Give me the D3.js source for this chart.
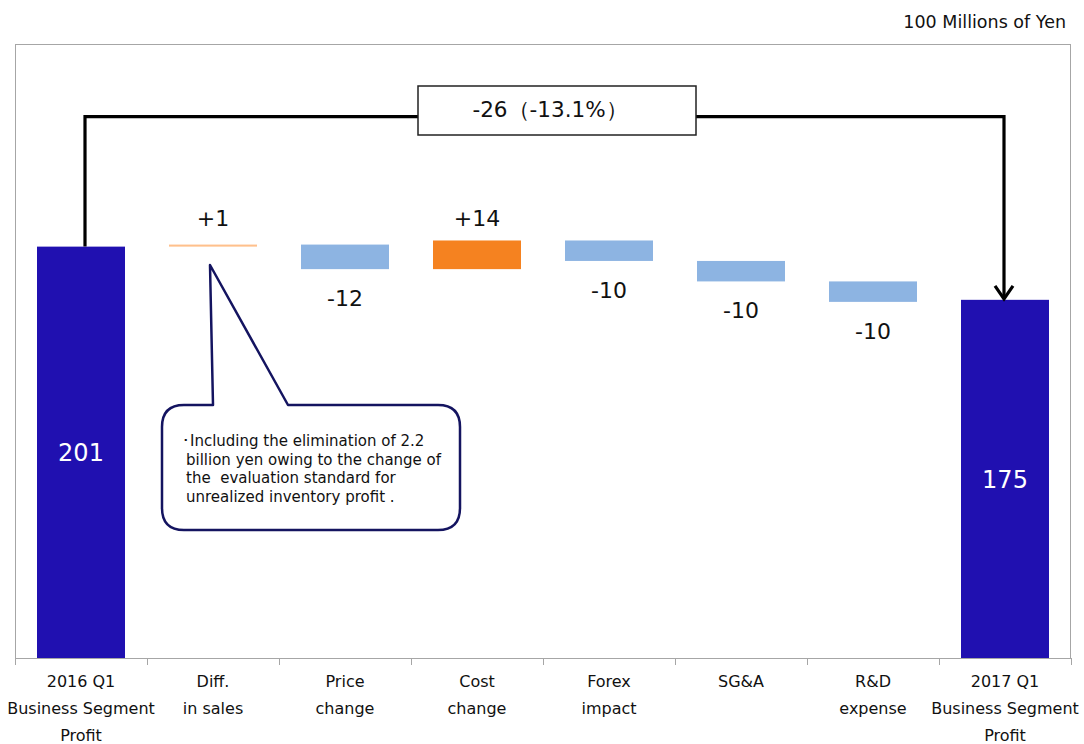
<!DOCTYPE html>
<html><head><meta charset="utf-8">
<script src="https://cdn.jsdelivr.net/npm/d3@7"></script>
<style>body{margin:0;background:#fff}svg{display:block}text{font-family:"DejaVu Sans",Verdana,sans-serif}</style>
</head><body><svg id="c" width="1084" height="744"></svg>
<script>
const categories = [["2016 Q1","Business Segment","Profit"],["Diff.","in sales"],["Price","change"],["Cost","change"],["Forex","impact"],["SG&A"],["R&D","expense"],["2017 Q1","Business Segment","Profit"]];
const values = [201, 1, -12, 14, -10, -10, -10, 175];
const kinds = ["total","delta","delta","delta","delta","delta","delta","total"];
const valueLabels = ["201","+1","-12","+14","-10","-10","-10","175"];
const unitLabel = "100 Millions of Yen";
const changeLabel = "-26（-13.1%）";
const noteLines = ["･Including the elimination of 2.2","billion yen owing to the change of","the  evaluation standard for","unrealized inventory profit ."];

const svg = d3.select("#c");
const L=15, R=1071, T=44, B=658;
const x = d3.scaleBand().domain(d3.range(categories.length)).range([L,R]).paddingInner(1/3).paddingOuter(1/6);
const y = d3.scaleLinear().domain([0,300]).range([B,T]);

// waterfall
let run=0;
const bars = values.map((v,i)=>{
  let y0,y1;
  if(kinds[i]==="total"){y0=0;y1=v;run=v;}
  else {y0=run;y1=run+v;run=y1;}
  return {i,v,y0,y1,kind:kinds[i]};
});
const color = d=> d.kind==="total" ? "#2010B0" : (d.v>0 ? (d.v<2 ? "#FFC08C" : "#F58220") : "#8DB4E2");

// plot border
svg.append("rect").attr("x",L+0.5).attr("y",T+0.5).attr("width",R-L-1).attr("height",B-T).attr("fill","none").attr("stroke","#a6a6a6").attr("stroke-width",1);

svg.selectAll("rect.bar").data(bars).join("rect").attr("class","bar")
  .attr("x",d=>x(d.i)).attr("width",x.bandwidth())
  .attr("y",d=>y(Math.max(d.y0,d.y1))).attr("height",d=>Math.max(2,Math.abs(y(d.y0)-y(d.y1))))
  .attr("fill",color);

// axis
const ax = svg.append("g").attr("transform",`translate(0,${B})`);
ax.append("line").attr("x1",L).attr("x2",R).attr("y1",0.5).attr("y2",0.5).attr("stroke","#a6a6a6");
const step = x.step();
d3.range(categories.length+1).forEach(k=>{
  const xx = Math.round(L + k*step)+0.5;
  ax.append("line").attr("x1",xx).attr("x2",xx).attr("y1",0).attr("y2",7).attr("stroke","#a6a6a6");
});
categories.forEach((lines,i)=>{
  const t = ax.append("text").attr("text-anchor","middle").attr("font-size",16).attr("fill","#111");
  lines.forEach((s,j)=>t.append("tspan").attr("x",x(i)+x.bandwidth()/2).attr("y",29+j*27).text(s));
});

// value labels
bars.forEach(d=>{
  const cx = x(d.i)+x.bandwidth()/2;
  if(d.kind==="total"){
    svg.append("text").attr("x",cx).attr("y",(y(d.y1)+y(0))/2+9).attr("text-anchor","middle").attr("font-size",24).attr("fill","#fff").text(valueLabels[d.i]);
  } else if(d.v>0){
    svg.append("text").attr("x",cx).attr("y",226).attr("text-anchor","middle").attr("font-size",22).attr("fill","#111").text(valueLabels[d.i]);
  } else {
    svg.append("text").attr("x",cx).attr("y",y(Math.min(d.y0,d.y1))+37).attr("text-anchor","middle").attr("font-size",22).attr("fill","#111").text(valueLabels[d.i]);
  }
});

// unit
svg.append("text").attr("x",1066).attr("y",28).attr("text-anchor","end").attr("font-size",17.5).attr("fill","#111").text(unitLabel);

// bracket
const first = bars[0], last = bars[bars.length-1];
const x1 = x(0)+x.bandwidth()/2+4, x2 = x(last.i)+x.bandwidth()/2-1, yb = y(264.5);
svg.append("path").attr("d",`M${x1},${y(first.y1)} V${yb} H${x2} V${y(last.y1)-2}`).attr("fill","none").attr("stroke","#000").attr("stroke-width",3.2);
svg.append("path").attr("d",`M${x2-9},${y(last.y1)-14} L${x2},${y(last.y1)-1} L${x2+9},${y(last.y1)-14}`).attr("fill","none").attr("stroke","#000").attr("stroke-width",3.2);
svg.append("rect").attr("x",418).attr("y",86).attr("width",278).attr("height",49).attr("fill","#fff").attr("stroke","#222").attr("stroke-width",1.5);
svg.append("text").attr("x",550).attr("y",117).attr("text-anchor","middle").attr("font-size",21.5).attr("fill","#111").text(changeLabel);

// callout
const bx=162, by=405, bw=298, bh=125, r=22;
const tipX=210, tipY=265, bl=213, br=288;
const p = `M${bx+r},${by} H${bl} L${tipX},${tipY} L${br},${by} H${bx+bw-r} Q${bx+bw},${by} ${bx+bw},${by+r} V${by+bh-r} Q${bx+bw},${by+bh} ${bx+bw-r},${by+bh} H${bx+r} Q${bx},${by+bh} ${bx},${by+bh-r} V${by+r} Q${bx},${by} ${bx+r},${by} Z`;
svg.append("path").attr("d",p).attr("fill","#fff").attr("stroke","#141460").attr("stroke-width",2.5).attr("stroke-linejoin","round");
const nt = svg.append("text").attr("font-size",15).attr("fill","#111");
noteLines.forEach((s,j)=>nt.append("tspan").attr("x",j===0?182:186).attr("y",446+j*18.5).attr("xml:space","preserve").text(s));
</script></body></html>
